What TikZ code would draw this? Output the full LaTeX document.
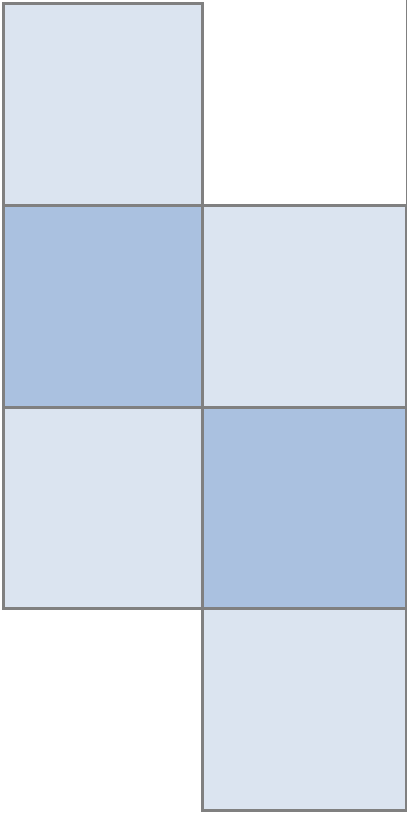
\documentclass[tikz,border=0pt]{standalone}
\definecolor{lightcell}{HTML}{DBE4F0}
\definecolor{darkcell}{HTML}{AAC1E0}
\definecolor{edgegray}{HTML}{808080}
\begin{document}
\begin{tikzpicture}[x=1pt,y=-1pt,
  cell/.style={draw=edgegray,line width=3pt},
  lightbox/.style={cell,fill=lightcell},
  darkbox/.style={cell,fill=darkcell}]
\useasboundingbox (0,0) rectangle (407,814);
\draw[lightbox] (3.5,3.5) rectangle (202,205.5);
\draw[lightbox] (202,205.5) rectangle (406.5,407.5);
\draw[lightbox] (3.5,407.5) rectangle (202,608.5);
\draw[lightbox] (202,608.5) rectangle (406.5,810);
\draw[darkbox] (3.5,205.5) rectangle (202,407.5);
\draw[darkbox] (202,407.5) rectangle (406.5,608.5);
\draw[draw=edgegray,line width=1pt] (406.5,0) -- (406.5,205.5);
\end{tikzpicture}
\end{document}
